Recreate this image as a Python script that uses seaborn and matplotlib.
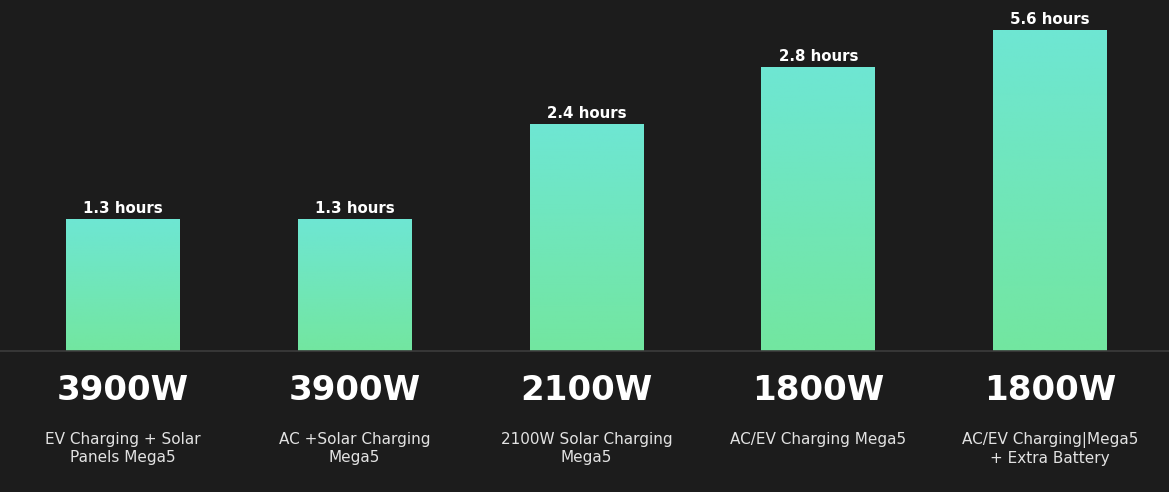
import numpy as np
import pandas as pd
import matplotlib
matplotlib.use("Agg")
import matplotlib.pyplot as plt
import seaborn as sns
from matplotlib.colors import LinearSegmentedColormap

# ---- data ----
powers = ["3900W", "3900W", "2100W", "1800W", "1800W"]
descriptions = [
    "EV Charging + Solar\nPanels Mega5",
    "AC +Solar Charging\nMega5",
    "2100W Solar Charging\nMega5",
    "AC/EV Charging Mega5",
    "AC/EV Charging|Mega5\n+ Extra Battery",
]
hour_labels = ["1.3 hours", "1.3 hours", "2.4 hours", "2.8 hours", "5.6 hours"]
# displayed bar heights (relative units, as drawn in the source)
bar_heights = [132, 132, 227, 284, 321]

BG = "#1c1c1c"
sns.set_theme(style="dark")
plt.rcParams["font.family"] = ["DejaVu Sans"]

fig = plt.figure(figsize=(11.69, 4.92), dpi=100, facecolor=BG)
ax = fig.add_axes([0, 0, 1, 1])
ax.set_facecolor(BG)

df = pd.DataFrame({"idx": list(range(len(bar_heights))), "h": bar_heights})
sns.barplot(data=df, x="idx", y="h", ax=ax, width=0.491, color="#6ee6c0",
            saturation=1, linewidth=0, native_scale=True)

ax.set_xlim(-0.530, 4.513)
ax.set_ylim(-141, 351)

cmap = LinearSegmentedColormap.from_list("g", ["#73e6a0", "#6ee6d3"])
grad = np.linspace(0, 1, 256).reshape(-1, 1)
for p in list(ax.patches):
    x0, y0 = p.get_x(), p.get_y()
    w, h = p.get_width(), p.get_height()
    im = ax.imshow(grad, cmap=cmap, origin="lower", aspect="auto",
                   extent=[x0, x0 + w, y0, y0 + h], zorder=3)
    im.set_clip_path(p)
    ax.annotate(hour_labels[int(round(x0 + w / 2))], (x0 + w / 2, y0 + h),
                xytext=(0, 2), textcoords="offset points", ha="center",
                va="bottom", color="white", fontsize=10.8, fontweight="bold",
                zorder=4)
ax.set_xlim(-0.530, 4.513)
ax.set_ylim(-141, 351)

ax.axhline(0, color="#3c3c3c", lw=1.2, zorder=5)

for i, (pw, d) in enumerate(zip(powers, descriptions)):
    ax.text(i, -39, pw, ha="center", va="center", color="white",
            fontsize=24.5, fontweight="bold")
    ax.text(i, -81, d, ha="center", va="top", color="#e2e2e2",
            fontsize=11, linespacing=1.25)

ax.set_axis_off()
fig.savefig("out.png", dpi=100, facecolor=BG)
